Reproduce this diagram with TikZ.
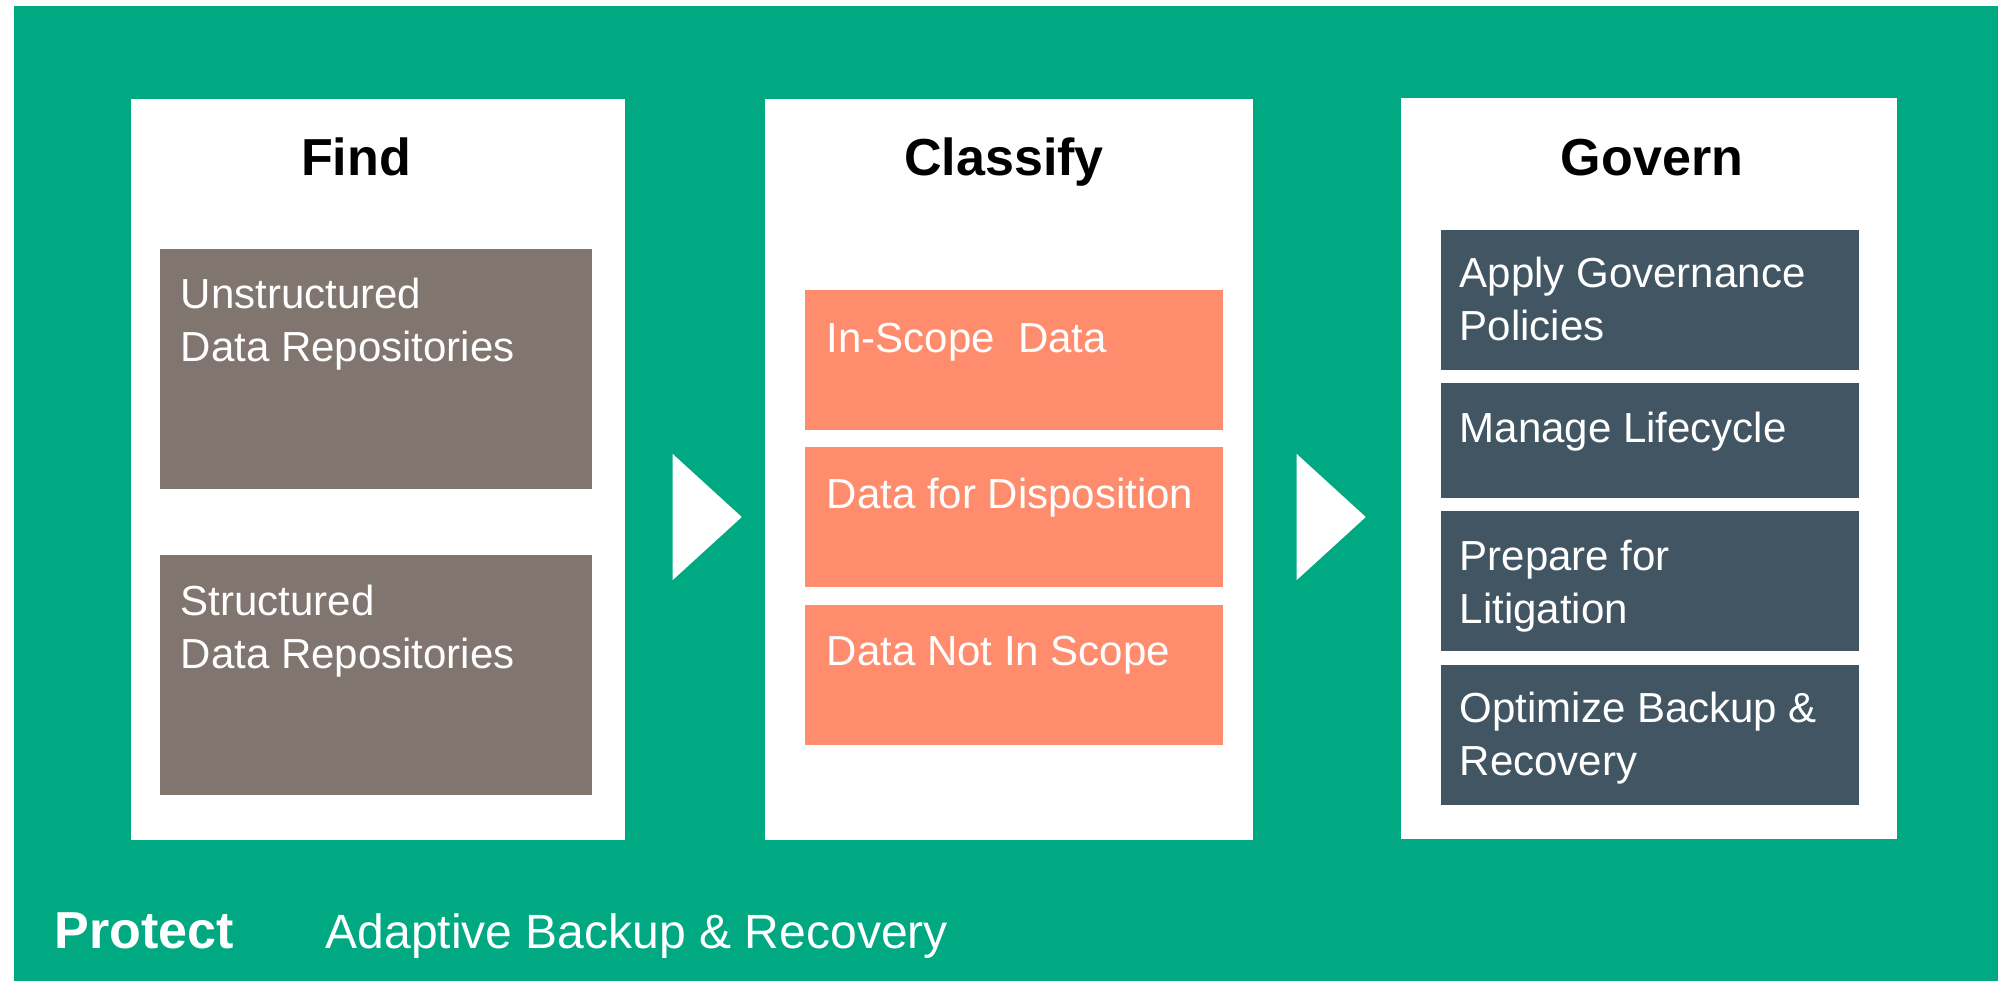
\documentclass[tikz,border=0pt]{standalone}
\usepackage{fontspec}
\setmainfont{Liberation Sans}
\usetikzlibrary{positioning, calc, shapes.geometric}
\definecolor{hpegreen}{RGB}{1, 169, 130}
\definecolor{stonegray}{RGB}{128, 117, 111}
\definecolor{salmon}{RGB}{255, 141, 109}
\definecolor{slate}{RGB}{66, 85, 99}
\tikzset{
    stagebox/.style={
        fill=white, anchor=north west, inner sep=0pt, minimum width=4.94cm, minimum height=7.41cm
    },
    itembox/.style={
        anchor=north west, inner sep=0pt, minimum width=4.18cm, minimum height=1.4cm
    },
    itemtext/.style={
        anchor=base west, inner sep=0pt, align=left, text=white,
        font=\fontsize{11.95}{14.8}\selectfont
    },
    stagetitle/.style={
        anchor=base, inner sep=0pt, font=\fontsize{14.8}{17}\selectfont\bfseries
    }
}

\begin{document}
\begin{tikzpicture}[
        x=0.01cm, y=-0.01cm,
        % --- STYLE ---
        flowarrow/.style={isosceles triangle, isosceles triangle apex angle=60, isosceles triangle stretches,
            fill=white, inner sep=0pt, minimum width=1.26cm, minimum height=0.69cm}
    ]

        \useasboundingbox[fill=white] (0,0) rectangle (1998,981);
        \fill[hpegreen] (14,6) rectangle (1998,981);

        % --- FIND ---
        \node[stagebox] (findBox) at (130,98) {};
        \node[stagetitle] (findT) at (356,175) {Find};
        \node[itembox, fill=stonegray, minimum width=4.32cm, minimum height=2.4cm] (unstr) at (159,248) {};
        % two lines: base anchor sits on the last line
        \node[itemtext] (unstrT) at ($(unstr.north west)+(21,113)$) {Unstructured\\Data Repositories};
        \node[itembox, fill=stonegray, minimum width=4.32cm, minimum height=2.4cm] (str) at (159,554) {};
        \node[itemtext] (strT) at ($(str.north west)+(21,114)$) {Structured\\Data Repositories};

        % --- CLASSIFY ---
        \node[stagebox, minimum width=4.88cm] (clsBox) at (764,98) {};
        \node[stagetitle] (clsT) at (1004,175) {Classify};
        \node[itembox, fill=salmon] (inScope) at (804,289) {};
        \node[itemtext] (inScopeT) at ($(inScope.north west)+(22,63)$) {In-Scope~~Data};
        \node[itembox, fill=salmon] (dispo) at (804,446) {};
        \node[itemtext] (dispoT) at ($(dispo.north west)+(22,62)$) {Data for Disposition};
        \node[itembox, fill=salmon] (outScope) at (804,604) {};
        \node[itemtext] (outScopeT) at ($(outScope.north west)+(22,61)$) {Data Not In Scope};

        % --- GOVERN ---
        \node[stagebox, minimum width=4.96cm] (govBox) at (1400,97) {};
        \node[stagetitle] (govT) at (1652,175) {Govern};
        \node[itembox, fill=slate] (policy) at (1440,229) {};
        \node[itemtext] (policyT) at ($(policy.north west)+(19,111)$) {Apply Governance\\Policies};
        \node[itembox, fill=slate, minimum height=1.15cm] (life) at (1440,382) {};
        \node[itemtext] (lifeT) at ($(life.north west)+(19,60)$) {Manage Lifecycle};
        \node[itembox, fill=slate] (litig) at (1440,510) {};
        \node[itemtext] (litigT) at ($(litig.north west)+(19,113)$) {Prepare for\\Litigation};
        \node[itembox, fill=slate] (backup) at (1440,664) {};
        \node[itemtext] (backupT) at ($(backup.north west)+(19,111)$) {Optimize Backup \&\\Recovery};

        % --- ARROWS ---
        \node[flowarrow] (arr1) at (700.5,517) {};
        \node[flowarrow] (arr2) at (1324.5,517) {};

        % --- PROTECT ---
        \node[anchor=base west, inner sep=0pt, text=white, font=\fontsize{14.8}{17}\selectfont\bfseries] (protT) at (54,948) {Protect};
        \node[anchor=base west, inner sep=0pt, text=white, font=\fontsize{13.66}{16}\selectfont] (adaptT) at (325,948) {Adaptive Backup \& Recovery};

    \end{tikzpicture}
\end{document}
